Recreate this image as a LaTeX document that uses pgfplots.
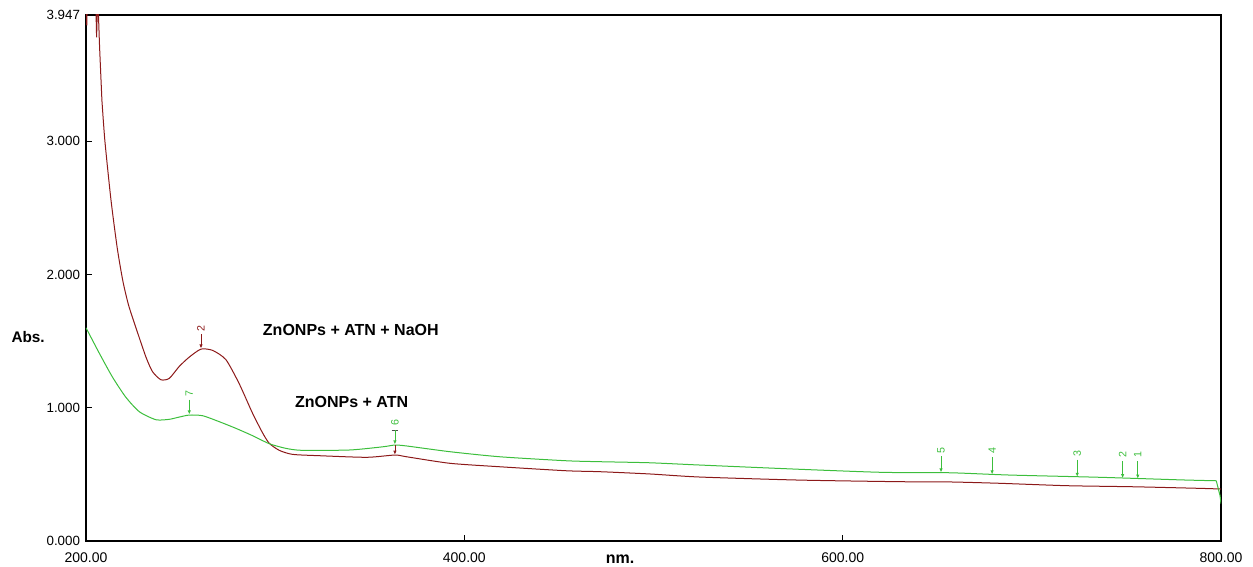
\documentclass[border=0pt]{standalone}
\usepackage{pgfplots}
\pgfplotsset{compat=1.18}
\usepackage{fontspec}
\setmainfont{Liberation Sans}
\usetikzlibrary{arrows.meta}
\definecolor{redline}{RGB}{140,25,25}
\definecolor{greenline}{RGB}{60,190,60}
\begin{document}
\begin{tikzpicture}
\path[use as bounding box] (-64.5pt,-19.5pt) rectangle (875.25pt,405.75pt);
\begin{axis}[
  scale only axis, width=851.25pt, height=394.5pt,
  xmin=200, xmax=800, ymin=0, ymax=3.947,
  xtick={200,400,600,800}, ytick={0,1,2,3,3.947},
  xtick pos=bottom, ytick pos=left,
  tick align=inside, major tick length=4.5pt,
  tick style={black, line width=0.6pt},
  axis line style={line width=1pt},
  /pgf/number format/assume math mode=true,
  xticklabel style={font=\fontsize{10.5}{12}\selectfont, yshift=-5pt, /pgf/number format/.cd, fixed, fixed zerofill, precision=2, 1000 sep={}},
  yticklabel style={font=\fontsize{10}{12}\selectfont, xshift=-1pt, /pgf/number format/.cd, fixed, fixed zerofill, precision=3},
  xlabel={\textbf{nm.}},
  xlabel style={at={(axis description cs:0.4705,-0.034)}, anchor=center, font=\fontsize{12}{14}\selectfont},
  ylabel={\textbf{Abs.}},
  ylabel style={at={(axis description cs:-0.051,0.388)}, anchor=center, rotate=-90, font=\fontsize{11.5}{14}\selectfont},
]
% ZnONPs + ATN + NaOH : noisy start
\addplot[redline, line width=0.75pt] coordinates {
(200,4.1) (200.4,3.87) (200.8,4.1) (205.1,4.1) (205.6,3.78) (206.2,4.1)
(207.2,3.7) (208.4,3.31)
};
% ZnONPs + ATN + NaOH
\addplot[redline, line width=0.75pt, smooth, tension=0.4] coordinates {
(208.4,3.31) (210,3.0) (213.2,2.56) (216.5,2.2) (219.5,1.95) (222.5,1.77)
(226.4,1.6) (231.7,1.38) (235.2,1.27) (239.6,1.21) (244,1.22) (249.3,1.31)
(254.6,1.38) (260.8,1.44) (267,1.43) (274,1.36) (281,1.18) (288,0.96)
(293.4,0.81) (296.9,0.733) (302.2,0.68) (309.2,0.65) (323.3,0.64) (348.4,0.628)
(363.3,0.645) (369.5,0.632) (392.4,0.583) (418.8,0.557) (454,0.527) (471.7,0.52)
(498,0.503) (524.5,0.48) (577.4,0.457) (630,0.445) (656.7,0.443) (683,0.433)
(718.4,0.415) (753.6,0.407) (789,0.395) (800,0.39)
};
% ZnONPs + ATN
\addplot[greenline, line width=0.75pt, smooth, tension=0.4] coordinates {
(200,1.6) (207,1.41) (214,1.23) (221,1.08) (228.2,0.97) (237,0.91) (244,0.913)
(249.3,0.93) (254.6,0.945) (261.7,0.94) (270.5,0.895) (279.3,0.845) (288.1,0.79)
(296.9,0.73) (305.7,0.695) (314.5,0.68) (339.5,0.683) (357,0.707) (363.3,0.72)
(369.5,0.713) (392.4,0.67) (418.8,0.632) (454,0.602) (471.7,0.595) (498,0.587)
(524.5,0.57) (577.4,0.538) (621.4,0.515) (656.7,0.512) (688,0.495) (736,0.478)
(780,0.458) (797.5,0.452)
};
\addplot[greenline, line width=0.75pt] coordinates {(797.5,0.452) (799.5,0.34) (800,0.28)};
% peak markers
\addplot[redline, line width=0.6pt, -{Latex[length=3pt,width=2.6pt]}] coordinates {(260.8,1.55) (260.8,1.445)}
  node[pos=0, anchor=west, rotate=90, inner sep=2pt, font=\fontsize{8}{9}\selectfont] {2};
\addplot[greenline, line width=0.6pt, -{Latex[length=3pt,width=2.6pt]}] coordinates {(254.6,1.06) (254.6,0.95)}
  node[pos=0, anchor=west, rotate=90, inner sep=2pt, font=\fontsize{8}{9}\selectfont] {7};
\addplot[black!70, line width=0.8pt] coordinates {(361.6,0.83) (365,0.83)};
\addplot[greenline, line width=0.6pt, -{Latex[length=3pt,width=2.6pt]}] coordinates {(363.3,0.83) (363.3,0.725)}
  node[pos=0, anchor=west, rotate=90, inner sep=3pt, font=\fontsize{8}{9}\selectfont] {6};
\addplot[redline, line width=0.6pt, -{Latex[length=3pt,width=2.6pt]}] coordinates {(363.3,0.72) (363.3,0.648)};
\addplot[greenline, line width=0.6pt, -{Latex[length=3pt,width=2.6pt]}] coordinates {(652,0.635) (652,0.515)}
  node[pos=0, anchor=west, rotate=90, inner sep=2pt, font=\fontsize{8}{9}\selectfont] {5};
\addplot[greenline, line width=0.6pt, -{Latex[length=3pt,width=2.6pt]}] coordinates {(679,0.63) (679,0.50)}
  node[pos=0, anchor=west, rotate=90, inner sep=2pt, font=\fontsize{8}{9}\selectfont] {4};
\addplot[greenline, line width=0.6pt, -{Latex[length=3pt,width=2.6pt]}] coordinates {(724,0.61) (724,0.482)}
  node[pos=0, anchor=west, rotate=90, inner sep=2pt, font=\fontsize{8}{9}\selectfont] {3};
\addplot[greenline, line width=0.6pt, -{Latex[length=3pt,width=2.6pt]}] coordinates {(748,0.60) (748,0.472)}
  node[pos=0, anchor=west, rotate=90, inner sep=2pt, font=\fontsize{8}{9}\selectfont] {2};
\addplot[greenline, line width=0.6pt, -{Latex[length=3pt,width=2.6pt]}] coordinates {(756,0.60) (756,0.468)}
  node[pos=0, anchor=west, rotate=90, inner sep=2pt, font=\fontsize{8}{9}\selectfont] {1};
% annotations
\node[font=\bfseries\fontsize{12}{14}\selectfont] at (axis cs:340,1.583) {ZnONPs + ATN + NaOH};
\node[font=\bfseries\fontsize{12}{14}\selectfont] at (axis cs:340.4,1.045) {ZnONPs + ATN};
\end{axis}
\end{tikzpicture}
\end{document}
